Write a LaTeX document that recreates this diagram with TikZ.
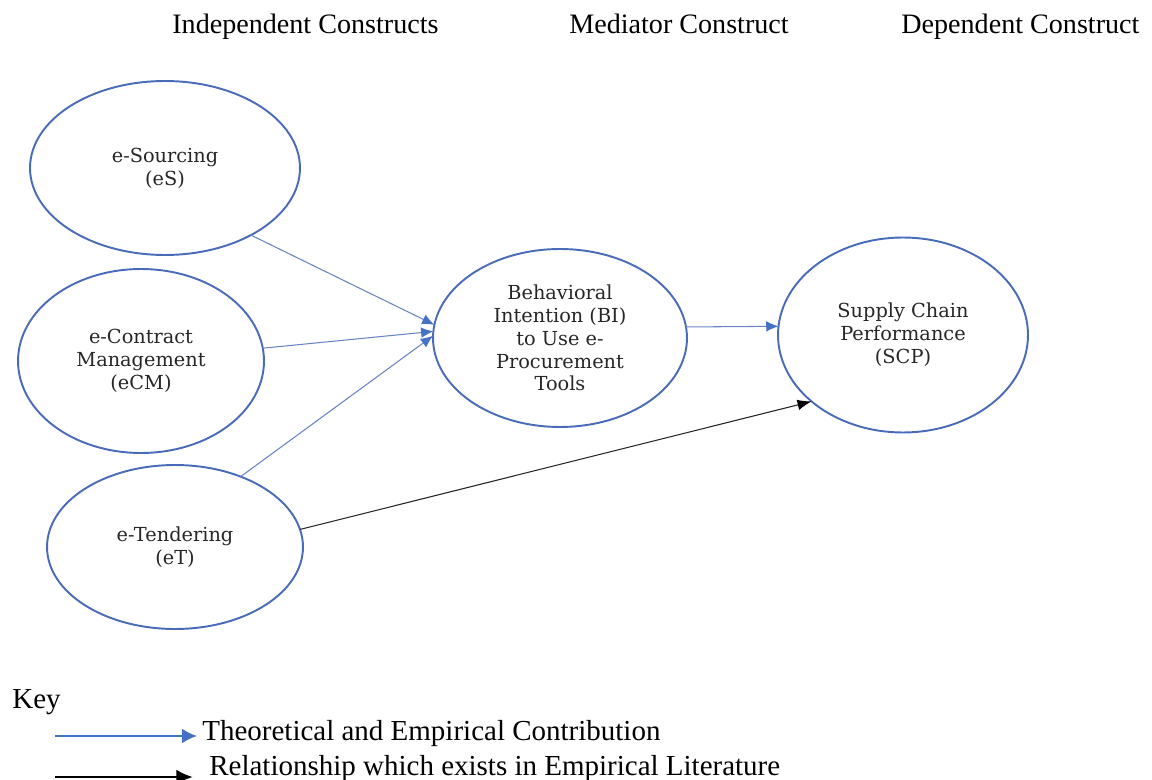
\documentclass[tikz,border=0pt]{standalone}
\usepackage{fontspec}
\setmainfont{Liberation Serif}
\newfontfamily\nodefont{DejaVu Serif}
\usetikzlibrary{shapes.geometric,arrows.meta}

\definecolor{ringblue}{RGB}{74,108,184}
\definecolor{linkblue}{RGB}{104,132,196}
\definecolor{keyblue}{RGB}{68,114,196}

\tikzset{
  construct/.style={ellipse, draw=ringblue, line width=1.1pt, inner sep=0pt, outer sep=0pt,
    align=center, font=\nodefont\fontsize{11}{13}\selectfont, text=black!85},
  header/.style={anchor=base west, inner sep=0pt, font=\fontsize{16}{19}\selectfont},
  keytext/.style={anchor=base west, inner sep=0pt, font=\fontsize{16.5}{19}\selectfont},
  theory/.style={draw=linkblue, line width=0.6pt, -{Latex[length=7pt,width=6pt,color=keyblue]}},
  empirical/.style={draw=black!85, line width=0.6pt, -{Latex[length=8pt,width=6pt,color=black]}},
  keytheory/.style={draw=keyblue, line width=1.2pt, -{Latex[length=8.5pt,width=8.5pt]}},
  keyempirical/.style={draw=black, line width=1.6pt, -{Latex[length=9.5pt,width=8.5pt]}}
}

\begin{document}
\begin{tikzpicture}[x=0.02cm,y=-0.02cm]
\useasboundingbox (0,0) rectangle (1152,780);

% column headings
\node[header] (hInd) at (172,34) {Independent Constructs};
\node[header] (hMed) at (569,34) {Mediator Construct};
\node[header] (hDep) at (901,34) {Dependent Construct};

% constructs
\node[construct, minimum width=5.4cm,  minimum height=3.48cm] (eS)  at (165,168) {e-Sourcing\\(eS)};
\node[construct, minimum width=4.92cm, minimum height=3.68cm] (eCM) at (141,361) {e-Contract\\Management\\(eCM)};
\node[construct, minimum width=5.12cm, minimum height=3.28cm] (eT)  at (175,547) {e-Tendering\\(eT)};
\node[construct, minimum width=5.08cm, minimum height=3.56cm] (BI)  at (560,338) {Behavioral\\Intention (BI)\\to Use e-\\Procurement\\Tools};
\node[construct, minimum width=5.0cm,  minimum height=3.9cm]  (SCP) at (903,335) {Supply Chain\\Performance\\(SCP)};

% relationships
\draw[theory] (eS.-38) -- (BI.174);
\draw[theory] (eCM.6) -- (BI.177);
\draw[theory] (eT.47) -- (BI.179);
\draw[theory] (BI.5) -- (SCP.176);
\draw[empirical] (eT.8) -- (SCP.216);

% key
\node[keytext] (key) at (12,708) {Key};
\coordinate (k1a) at (55,736);
\coordinate (k1b) at (197,736);
\coordinate (k2a) at (55,777);
\coordinate (k2b) at (193,777);
\draw[keytheory] (k1a) -- (k1b);
\draw[keyempirical] (k2a) -- (k2b);
\node[keytext] (kt1) at (202,740) {Theoretical and Empirical Contribution};
\node[keytext] (kt2) at (209,775) {Relationship which exists in Empirical Literature};
\end{tikzpicture}
\end{document}
